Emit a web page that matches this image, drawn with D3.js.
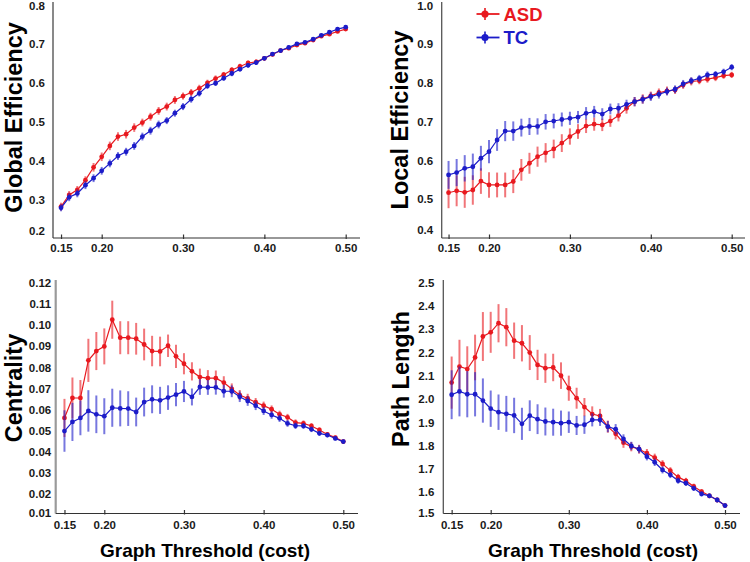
<!DOCTYPE html>
<html>
<head>
<meta charset="utf-8">
<script src="https://cdn.jsdelivr.net/npm/d3@7"></script>
<style>
  html, body { margin: 0; padding: 0; background: #fff; }
  svg { display: block; font-family: "Liberation Sans", Arial, sans-serif; }
</style>
</head>
<body>
<svg id="chart" width="750" height="562"></svg>
<script>
// ---------------- DATA ----------------
const thresholds = [0.15,0.16,0.17,0.18,0.19,0.20,0.21,0.22,0.23,0.24,0.25,0.26,0.27,0.28,0.29,0.30,0.31,0.32,0.33,0.34,0.35,0.36,0.37,0.38,0.39,0.40,0.41,0.42,0.43,0.44,0.45,0.46,0.47,0.48,0.49,0.50];
const xTicks = [0.15, 0.20, 0.30, 0.40, 0.50];
const groups = ["ASD", "TC"];

// Global Efficiency
const geASD = [0.283,0.313,0.326,0.351,0.384,0.411,0.439,0.463,0.469,0.486,0.499,0.514,0.529,0.540,0.557,0.567,0.576,0.587,0.601,0.612,0.622,0.634,0.643,0.652,0.655,0.664,0.674,0.684,0.690,0.698,0.703,0.711,0.721,0.726,0.733,0.739];
const geASDerr = [0.010,0.010,0.010,0.010,0.011,0.011,0.011,0.011,0.011,0.011,0.010,0.010,0.010,0.010,0.010,0.009,0.009,0.009,0.008,0.008,0.007,0.007,0.007,0.006,0.006,0.006,0.005,0.005,0.005,0.005,0.005,0.004,0.004,0.004,0.004,0.004];
const geTC = [0.280,0.307,0.317,0.338,0.356,0.375,0.394,0.413,0.424,0.439,0.463,0.478,0.494,0.504,0.523,0.540,0.559,0.574,0.593,0.600,0.613,0.625,0.636,0.646,0.653,0.664,0.675,0.684,0.692,0.701,0.705,0.713,0.723,0.731,0.739,0.744];
const geTCerr = [0.009,0.010,0.010,0.010,0.010,0.010,0.010,0.010,0.010,0.010,0.010,0.010,0.010,0.009,0.009,0.009,0.009,0.008,0.008,0.007,0.007,0.007,0.006,0.006,0.006,0.005,0.005,0.005,0.005,0.005,0.004,0.004,0.004,0.004,0.004,0.004];
const geTicks = [0.2,0.3,0.4,0.5,0.6,0.7,0.8];

// Local Efficiency
const leASD = [0.517,0.522,0.518,0.524,0.547,0.537,0.537,0.537,0.546,0.576,0.593,0.610,0.620,0.630,0.645,0.662,0.675,0.689,0.694,0.692,0.702,0.716,0.735,0.752,0.759,0.767,0.775,0.780,0.782,0.795,0.804,0.806,0.810,0.814,0.819,0.821];
const leASDerr = [0.040,0.040,0.040,0.038,0.033,0.033,0.032,0.032,0.030,0.028,0.027,0.026,0.025,0.024,0.023,0.021,0.019,0.018,0.017,0.016,0.015,0.015,0.014,0.012,0.012,0.011,0.011,0.011,0.010,0.010,0.010,0.009,0.009,0.009,0.008,0.008];
const leTC = [0.563,0.569,0.580,0.584,0.606,0.623,0.653,0.676,0.676,0.685,0.688,0.688,0.700,0.702,0.706,0.709,0.712,0.722,0.726,0.720,0.733,0.735,0.745,0.752,0.758,0.765,0.771,0.778,0.784,0.798,0.806,0.812,0.821,0.823,0.829,0.841];
const leTCerr = [0.036,0.035,0.034,0.034,0.032,0.030,0.028,0.026,0.025,0.023,0.022,0.021,0.020,0.019,0.018,0.017,0.016,0.016,0.015,0.015,0.014,0.013,0.012,0.012,0.011,0.011,0.011,0.010,0.010,0.010,0.009,0.009,0.009,0.008,0.008,0.008];
const leTicks = [0.4,0.5,0.6,0.7,0.8,0.9,1.0];

// Centrality
const ceASD = [0.0561,0.0655,0.0655,0.0833,0.0877,0.0899,0.1025,0.0940,0.0940,0.0935,0.0908,0.0877,0.0875,0.0902,0.0852,0.0817,0.0781,0.0754,0.0749,0.0749,0.0728,0.0698,0.0669,0.0653,0.0635,0.0619,0.0602,0.0578,0.0564,0.0539,0.0535,0.0523,0.0504,0.0483,0.0468,0.0449];
const ceASDerr = [0.0090,0.0097,0.0085,0.0102,0.0090,0.0085,0.0090,0.0078,0.0078,0.0075,0.0075,0.0072,0.0070,0.0053,0.0055,0.0050,0.0043,0.0040,0.0038,0.0036,0.0030,0.0026,0.0024,0.0022,0.0020,0.0019,0.0018,0.0017,0.0016,0.0015,0.0014,0.0013,0.0012,0.0011,0.0010,0.0010];
const ceTC = [0.0499,0.0542,0.0561,0.0594,0.0578,0.0569,0.0609,0.0606,0.0605,0.0589,0.0636,0.0649,0.0644,0.0657,0.0671,0.0686,0.0660,0.0707,0.0705,0.0705,0.0687,0.0687,0.0661,0.0641,0.0619,0.0594,0.0575,0.0559,0.0535,0.0524,0.0523,0.0507,0.0488,0.0480,0.0464,0.0449];
const ceTCerr = [0.0098,0.0090,0.0082,0.0098,0.0089,0.0085,0.0090,0.0085,0.0082,0.0068,0.0068,0.0066,0.0064,0.0058,0.0055,0.0050,0.0040,0.0037,0.0035,0.0034,0.0030,0.0028,0.0025,0.0023,0.0021,0.0019,0.0018,0.0017,0.0016,0.0015,0.0014,0.0013,0.0012,0.0011,0.0010,0.0010];
const ceTicks = [0.01,0.02,0.03,0.04,0.05,0.06,0.07,0.08,0.09,0.10,0.11,0.12];

// Path Length
const plASD = [2.071,2.140,2.129,2.179,2.269,2.287,2.326,2.309,2.251,2.240,2.200,2.147,2.133,2.136,2.101,2.047,2.004,1.966,1.936,1.928,1.882,1.851,1.813,1.796,1.785,1.768,1.749,1.722,1.693,1.665,1.649,1.625,1.603,1.585,1.567,1.543];
const plASDerr = [0.112,0.115,0.098,0.098,0.105,0.088,0.082,0.082,0.078,0.078,0.075,0.065,0.063,0.059,0.057,0.054,0.045,0.039,0.033,0.030,0.026,0.024,0.022,0.020,0.019,0.018,0.017,0.016,0.015,0.014,0.013,0.012,0.011,0.010,0.010,0.009];
const plTC = [2.019,2.033,2.021,2.021,1.994,1.959,1.944,1.937,1.930,1.894,1.929,1.914,1.904,1.901,1.897,1.901,1.887,1.890,1.911,1.911,1.882,1.871,1.829,1.799,1.785,1.753,1.729,1.696,1.675,1.650,1.639,1.617,1.593,1.585,1.567,1.543];
const plTCerr = [0.105,0.107,0.099,0.095,0.095,0.078,0.076,0.077,0.076,0.069,0.066,0.064,0.060,0.058,0.054,0.046,0.041,0.039,0.028,0.026,0.024,0.022,0.020,0.018,0.017,0.016,0.016,0.015,0.014,0.013,0.012,0.011,0.011,0.010,0.010,0.009];
const plTicks = [1.5,1.6,1.7,1.8,1.9,2.0,2.1,2.2,2.3,2.4,2.5];

// ---------------- STYLE / LAYOUT ----------------
const colors = { ASD: "#e8191f", TC: "#1c1cc9" };
const svg = d3.select("#chart");

const panels = [
  { title: "Global Efficiency", asd: geASD, asdErr: geASDerr, tc: geTC, tcErr: geTCerr,
    yTicks: geTicks, fmt: d3.format(".1f"),
    yAxisX: 53, xAxisY: 238, yTopLine: 2, xRight: 360,
    xMap: [[0.20, 101.7],[0.50, 345.7]], yMap: [[0.3, 200],[0.7, 44.3]],
    yLabGap: 8, bottomShift: -8, xLabY: 252,
    titleX: 21.5, titleY: 117.5, axisColor: "#4a4a4a", axisW: 1.3, xTitle: false },
  { title: "Local Efficiency", asd: leASD, asdErr: leASDerr, tc: leTC, tcErr: leTCerr,
    yTicks: leTicks, fmt: d3.format(".1f"),
    yAxisX: 441.7, xAxisY: 238, yTopLine: 2, xRight: 745,
    xMap: [[0.20, 489],[0.50, 731.7]], yMap: [[0.5, 199.3],[0.9, 44.3]],
    yLabGap: 8.5, bottomShift: -8, xLabY: 252,
    titleX: 408, titleY: 120, axisColor: "#555", axisW: 1.3, xTitle: false, legend: true },
  { title: "Centrality", asd: ceASD, asdErr: ceASDerr, tc: ceTC, tcErr: ceTCerr,
    yTicks: ceTicks, fmt: d3.format(".2f"),
    yAxisX: 55.7, xAxisY: 513.5, yTopLine: 280, xRight: 358,
    xMap: [[0.20, 104.3],[0.50, 343.3]], yMap: [[0.02, 494.3],[0.12, 282.7]],
    yLabGap: 4.5, bottomShift: -3, xLabY: 529,
    titleX: 21.5, titleY: 388, axisColor: "#9a9a9a", axisW: 2.2, xTitle: true, xTitleX: 205 },
  { title: "Path Length", asd: plASD, asdErr: plASDerr, tc: plTC, tcErr: plTCerr,
    yTicks: plTicks, fmt: d3.format(".1f"),
    yAxisX: 443.3, xAxisY: 513.5, yTopLine: 280, xRight: 740,
    xMap: [[0.20, 490.7],[0.50, 725]], yMap: [[1.6, 492.3],[2.4, 306]],
    yLabGap: 9, bottomShift: -3, xLabY: 529,
    titleX: 409, titleY: 379, axisColor: "#555", axisW: 1.3, xTitle: true, xTitleX: 593 }
];

panels.forEach(p => {
  const x = d3.scaleLinear().domain(p.xMap.map(d => d[0])).range(p.xMap.map(d => d[1]));
  const y = d3.scaleLinear().domain(p.yMap.map(d => d[0])).range(p.yMap.map(d => d[1]));
  const g = svg.append("g");

  // Y axis (no tick marks)
  const yAxis = d3.axisLeft(y).tickValues(p.yTicks).tickFormat(p.fmt).tickSize(0).tickPadding(p.yLabGap);
  const ya = g.append("g").attr("transform", `translate(${p.yAxisX},0)`).call(yAxis);
  ya.select(".domain").remove();
  ya.selectAll("text")
    .attr("font-family", "Liberation Sans, Arial, sans-serif")
    .attr("font-size", 11.5).attr("font-weight", "bold").attr("fill", "#1a1a1a");
  const minTick = d3.min(p.yTicks);
  ya.selectAll(".tick").filter(d => d === minTick).select("text").attr("y", p.bottomShift);

  g.append("line")
    .attr("x1", p.yAxisX).attr("x2", p.yAxisX)
    .attr("y1", p.yTopLine).attr("y2", p.xAxisY)
    .attr("stroke", p.axisColor).attr("stroke-width", p.axisW);

  // X axis with small inward ticks
  g.append("line")
    .attr("x1", p.yAxisX).attr("x2", p.xRight)
    .attr("y1", p.xAxisY).attr("y2", p.xAxisY)
    .attr("stroke", "#333").attr("stroke-width", 1.2);
  const xa = g.append("g").attr("transform", `translate(0,${p.xAxisY})`)
    .call(d3.axisBottom(x).tickValues(xTicks).tickFormat(d3.format(".2f")).tickSize(0));
  xa.select(".domain").remove();
  xa.selectAll(".tick").append("line")
    .attr("y1", -3.5).attr("y2", 1).attr("stroke", "#333").attr("stroke-width", 1.2);
  xa.selectAll("text")
    .attr("y", p.xLabY - p.xAxisY).attr("dy", 0)
    .attr("font-family", "Liberation Sans, Arial, sans-serif")
    .attr("font-size", 11.5).attr("font-weight", "bold").attr("fill", "#1a1a1a");

  // Y title
  g.append("text")
    .attr("transform", `translate(${p.titleX},${p.titleY}) rotate(-90)`)
    .attr("text-anchor", "middle")
    .attr("font-size", 23.5).attr("font-weight", "bold").attr("fill", "#000")
    .text(p.title);

  if (p.xTitle) {
    g.append("text")
      .attr("x", p.xTitleX).attr("y", 556.5)
      .attr("text-anchor", "middle")
      .attr("font-size", 19).attr("font-weight", "bold").attr("fill", "#000")
      .text("Graph Threshold (cost)");
  }

  // Series
  const series = [
    { key: "ASD", vals: p.asd, err: p.asdErr },
    { key: "TC", vals: p.tc, err: p.tcErr }
  ];
  series.forEach(s => {
    const pts = thresholds.map((t, i) => ({ t, v: s.vals[i], e: s.err[i] }));
    const sg = g.append("g");
    sg.selectAll("line.err").data(pts).enter().append("line")
      .attr("class", "err")
      .attr("x1", d => x(d.t)).attr("x2", d => x(d.t))
      .attr("y1", d => y(d.v - d.e)).attr("y2", d => y(d.v + d.e))
      .attr("stroke", colors[s.key]).attr("stroke-opacity", 0.6).attr("stroke-width", 2);
    sg.append("path").datum(pts)
      .attr("fill", "none").attr("stroke", colors[s.key]).attr("stroke-width", 1.2)
      .attr("d", d3.line().x(d => x(d.t)).y(d => y(d.v)));
    sg.selectAll("circle").data(pts).enter().append("circle")
      .attr("cx", d => x(d.t)).attr("cy", d => y(d.v)).attr("r", 2.4)
      .attr("fill", colors[s.key]);
  });

  if (p.legend) {
    const lg = g.append("g");
    const items = [{ key: "ASD", y: 14 }, { key: "TC", y: 37.5 }];
    items.forEach(it => {
      lg.append("line").attr("x1", 476.5).attr("x2", 499.5).attr("y1", it.y).attr("y2", it.y)
        .attr("stroke", colors[it.key]).attr("stroke-width", 1.8);
      lg.append("line").attr("x1", 485).attr("x2", 485).attr("y1", it.y - 6).attr("y2", it.y + 6)
        .attr("stroke", colors[it.key]).attr("stroke-width", 1.6);
      lg.append("circle").attr("cx", 485).attr("cy", it.y).attr("r", 3.6).attr("fill", colors[it.key]);
      lg.append("text").attr("x", 503.5).attr("y", it.y + 6.6)
        .attr("font-size", 18.5).attr("font-weight", "bold").attr("fill", colors[it.key])
        .text(it.key);
    });
  }
});
</script>
</body>
</html>
